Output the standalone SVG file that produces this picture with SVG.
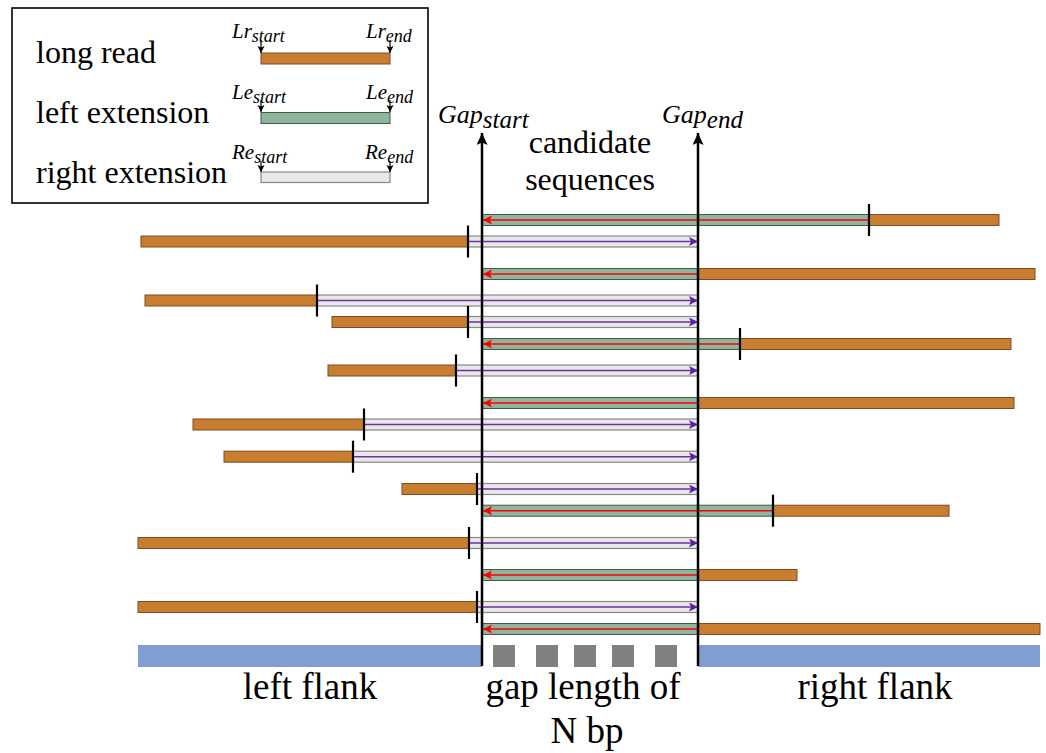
<svg xmlns="http://www.w3.org/2000/svg" width="1046" height="753" viewBox="0 0 1046 753">
  <style>
    .read { fill: #C97D31; stroke: #7A4E22; stroke-width: 1; }
    .lext { fill: #8FB4A0; stroke: #3E5E3E; stroke-width: 1; }
    .rext { fill: #E8E8E8; stroke: #888888; stroke-width: 1.2; }
    .flank { fill: #7F9FD1; }
    .gapbox { fill: #808080; }
    .tick { stroke: #000; stroke-width: 2.2; }
    .larrow { stroke: #FF0000; stroke-width: 1.5; fill: none; marker-end: url(#redHead); }
    .rarrow { stroke: #7030A0; stroke-width: 1.5; fill: none; marker-end: url(#purpleHead); }
    .gapline { stroke: #000; stroke-width: 2.5; fill: none; marker-end: url(#blackHead); }
    .pin { stroke: #000; stroke-width: 1.2; fill: none; marker-end: url(#pinHead); }
    .serif { font-family: "Liberation Serif", "Times New Roman", serif; fill: #000; }
    .it { font-style: italic; }
  </style>
  <defs>
    <marker id="redHead" markerUnits="userSpaceOnUse" markerWidth="10" markerHeight="10" refX="9" refY="4.5" orient="auto">
      <path d="M0,0 L9,4.5 L0,9 L2,4.5 z" fill="#FF0000"/>
    </marker>
    <marker id="purpleHead" markerUnits="userSpaceOnUse" markerWidth="10" markerHeight="10" refX="9" refY="4.5" orient="auto">
      <path d="M0,0 L9,4.5 L0,9 L2,4.5 z" fill="#5B1FA8"/>
    </marker>
    <marker id="blackHead" markerUnits="userSpaceOnUse" markerWidth="14" markerHeight="12" refX="12" refY="5.5" orient="auto">
      <path d="M0,0 L12,5.5 L0,11 L2.5,5.5 z" fill="#000"/>
    </marker>
    <marker id="pinHead" markerUnits="userSpaceOnUse" markerWidth="8" markerHeight="8" refX="7" refY="3.5" orient="auto">
      <path d="M0,0 L7,3.5 L0,7 L1.5,3.5 z" fill="#000"/>
    </marker>
  </defs>

  <rect width="1046" height="753" fill="#FFFFFF"/>

  <!-- legend -->
  <g id="legend">
    <rect x="12" y="8" width="416" height="195" fill="#FFFFFF" stroke="#000" stroke-width="1.6"/>
    <text class="serif" x="36" y="63" font-size="32">long read</text>
    <text class="serif" x="36" y="123" font-size="32">left extension</text>
    <text class="serif" x="36" y="183" font-size="32">right extension</text>

    <rect class="read" x="261" y="53" width="129" height="11"/>
    <rect class="lext" x="261" y="112.5" width="129" height="11"/>
    <rect class="rext" x="261" y="172" width="129" height="10.5"/>

    <line class="pin" x1="261" y1="40" x2="261" y2="53"/>
    <line class="pin" x1="390" y1="40" x2="390" y2="53"/>
    <line class="pin" x1="261" y1="100" x2="261" y2="112"/>
    <line class="pin" x1="390" y1="100" x2="390" y2="112"/>
    <line class="pin" x1="261" y1="161" x2="261" y2="172"/>
    <line class="pin" x1="390" y1="161" x2="390" y2="172"/>

    <text class="serif it" x="232" y="38" font-size="21">Lr<tspan dy="4" font-size="18">start</tspan></text>
    <text class="serif it" x="366" y="38" font-size="21">Lr<tspan dy="4" font-size="18">end</tspan></text>
    <text class="serif it" x="232" y="99" font-size="21">Le<tspan dy="4" font-size="18">start</tspan></text>
    <text class="serif it" x="366" y="99" font-size="21">Le<tspan dy="4" font-size="18">end</tspan></text>
    <text class="serif it" x="232" y="159" font-size="21">Re<tspan dy="4" font-size="18">start</tspan></text>
    <text class="serif it" x="365" y="159" font-size="21">Re<tspan dy="4" font-size="18">end</tspan></text>
  </g>

  <!-- reference: flanks and the N-bp gap -->
  <g id="reference">
    <rect class="flank" x="138" y="645" width="344" height="22"/>
    <rect class="flank" x="698" y="645" width="342" height="22"/>
    <rect class="gapbox" x="493" y="645" width="22" height="22"/>
    <rect class="gapbox" x="536" y="645" width="22" height="22"/>
    <rect class="gapbox" x="574" y="645" width="22" height="22"/>
    <rect class="gapbox" x="612" y="645" width="22" height="22"/>
    <rect class="gapbox" x="655" y="645" width="22" height="22"/>
  </g>

  <!-- reads anchored on the right flank: left extensions across the gap -->
  <g id="row01"><rect class="lext" x="482" y="214.5" width="387" height="11"/><rect class="read" x="869" y="214.5" width="130" height="11"/><path class="larrow" d="M869,220 H483"/><line class="tick" x1="869" y1="204" x2="869" y2="236"/></g>
  <g id="row03"><rect class="lext" x="482" y="268.5" width="216" height="11"/><rect class="read" x="698" y="268.5" width="337" height="11"/><path class="larrow" d="M698,274 H483"/></g>
  <g id="row06"><rect class="lext" x="482" y="338.5" width="258" height="11"/><rect class="read" x="740" y="338.5" width="271" height="11"/><path class="larrow" d="M740,344 H483"/><line class="tick" x1="740" y1="328" x2="740" y2="360"/></g>
  <g id="row08"><rect class="lext" x="482" y="397.5" width="216" height="11"/><rect class="read" x="698" y="397.5" width="316" height="11"/><path class="larrow" d="M698,403 H483"/></g>
  <g id="row12"><rect class="lext" x="482" y="505.2" width="291" height="11"/><rect class="read" x="773" y="505.2" width="176" height="11"/><path class="larrow" d="M773,510.7 H483"/><line class="tick" x1="773" y1="494.7" x2="773" y2="526.7"/></g>
  <g id="row14"><rect class="lext" x="482" y="569.5" width="216" height="11"/><rect class="read" x="698" y="569.5" width="99" height="11"/><path class="larrow" d="M698,575 H483"/></g>
  <g id="row16"><rect class="lext" x="482" y="623.5" width="216" height="11"/><rect class="read" x="698" y="623.5" width="342" height="11"/><path class="larrow" d="M698,629 H483"/></g>

  <!-- reads anchored on the left flank: right extensions across the gap -->
  <g id="row02"><rect class="read" x="141" y="236" width="327" height="11"/><rect class="rext" x="468" y="236" width="230" height="11"/><path class="rarrow" d="M468,241.5 H698"/><line class="tick" x1="468" y1="225.5" x2="468" y2="257.5"/></g>
  <g id="row04"><rect class="read" x="145" y="295" width="172" height="11"/><rect class="rext" x="317" y="295" width="381" height="11"/><path class="rarrow" d="M317,300.5 H698"/><line class="tick" x1="317" y1="284.5" x2="317" y2="316.5"/></g>
  <g id="row05"><rect class="read" x="332" y="316.5" width="136" height="11"/><rect class="rext" x="468" y="316.5" width="230" height="11"/><path class="rarrow" d="M468,322 H698"/><line class="tick" x1="468" y1="306" x2="468" y2="338"/></g>
  <g id="row07"><rect class="read" x="328" y="365" width="128" height="11"/><rect class="rext" x="456" y="365" width="242" height="11"/><path class="rarrow" d="M456,370.5 H698"/><line class="tick" x1="456" y1="354.5" x2="456" y2="386.5"/></g>
  <g id="row09"><rect class="read" x="193" y="419" width="171" height="11"/><rect class="rext" x="364" y="419" width="334" height="11"/><path class="rarrow" d="M364,424.5 H698"/><line class="tick" x1="364" y1="408.5" x2="364" y2="440.5"/></g>
  <g id="row10"><rect class="read" x="224" y="451.2" width="129" height="11"/><rect class="rext" x="353" y="451.2" width="345" height="11"/><path class="rarrow" d="M353,456.7 H698"/><line class="tick" x1="353" y1="440.7" x2="353" y2="472.7"/></g>
  <g id="row11"><rect class="read" x="402" y="483.5" width="75" height="11"/><rect class="rext" x="477" y="483.5" width="221" height="11"/><path class="rarrow" d="M477,489 H698"/><line class="tick" x1="477" y1="473" x2="477" y2="505"/></g>
  <g id="row13"><rect class="read" x="138" y="537.5" width="331" height="11"/><rect class="rext" x="469" y="537.5" width="229" height="11"/><path class="rarrow" d="M469,543 H698"/><line class="tick" x1="469" y1="527" x2="469" y2="559"/></g>
  <g id="row15"><rect class="read" x="138" y="601.5" width="339" height="11"/><rect class="rext" x="477" y="601.5" width="221" height="11"/><path class="rarrow" d="M477,607 H698"/><line class="tick" x1="477" y1="591" x2="477" y2="623"/></g>

  <!-- gap boundary markers -->
  <g id="connectors">
    <path class="gapline" d="M482,666 V133"/>
    <path class="gapline" d="M698,666 V133"/>
  </g>

  <g id="labels">
    <text class="serif it" x="438" y="123" font-size="26">Gap<tspan dy="5" font-size="25">start</tspan></text>
    <text class="serif it" x="662" y="123" font-size="26">Gap<tspan dy="5" font-size="25">end</tspan></text>
    <text class="serif" x="590" y="153" font-size="32" text-anchor="middle">candidate</text>
    <text class="serif" x="590" y="190" font-size="32" text-anchor="middle">sequences</text>
    <text class="serif" x="310" y="699" font-size="37" text-anchor="middle">left flank</text>
    <text class="serif" x="583" y="699" font-size="37" text-anchor="middle">gap length of</text>
    <text class="serif" x="587" y="743" font-size="37" text-anchor="middle">N bp</text>
    <text class="serif" x="875" y="699" font-size="37" text-anchor="middle">right flank</text>
  </g>
</svg>
